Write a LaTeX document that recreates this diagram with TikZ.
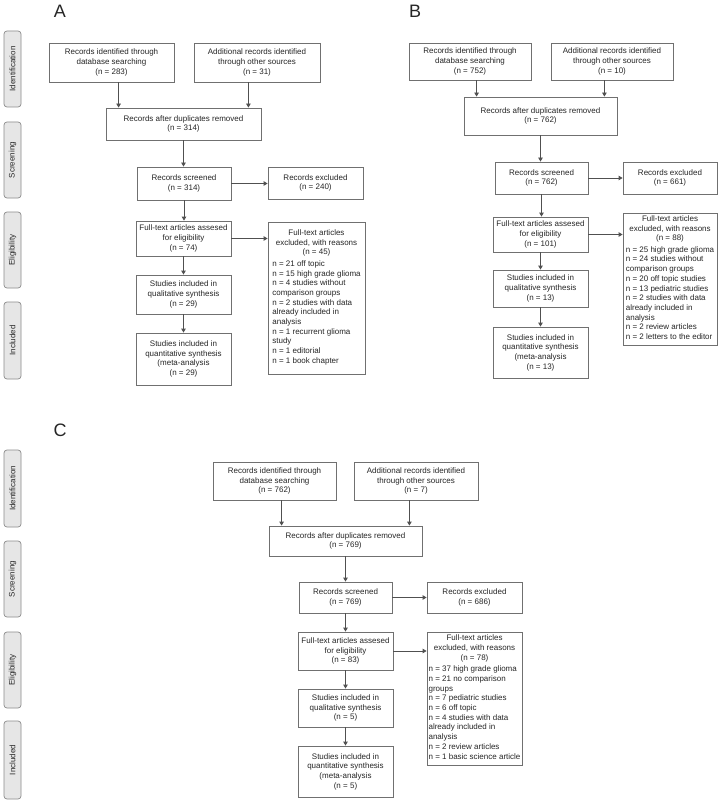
\documentclass[tikz,border=0pt]{standalone}
\usepackage{fontspec}
\setmainfont{Liberation Sans}
\usetikzlibrary{arrows.meta,calc}
\definecolor{boxline}{HTML}{707070}
\definecolor{arrcol}{HTML}{505050}
\definecolor{tabfill}{HTML}{E6E6E6}
\definecolor{tabline}{HTML}{8C8C8C}
\definecolor{txt}{HTML}{262626}
\tikzset{
  pbox/.style={draw=boxline, line width=0.8pt, inner sep=0pt, align=center,
    font=\fontsize{8}{9.7}\selectfont, text=txt},
  arr/.style={draw=arrcol, line width=0.8pt, -{Triangle[length=4pt,width=4.5pt]}},
  sidetab/.style={draw=tabline, fill=tabfill, rounded corners=3pt, line width=0.7pt,
    inner sep=0pt, rotate=90, font=\fontsize{8}{9.7}\selectfont, text=txt},
  panellabel/.style={font=\fontsize{18}{20}\selectfont, inner sep=0pt, text=txt}
}
\newcommand\mkbox[6]{\node[pbox, minimum width={(#4-#2)*1pt}, minimum height={(#5-#3)*1pt}] (#1) at ({(#2+#4)/2},{(#3+#5)/2}) {#6};}
\newcommand\mktab[4]{\node[sidetab, minimum width={(#4-#3)*1pt}, minimum height=17pt] (#1) at (12.5,{(#3+#4)/2}) {#2};}
\newcommand\rsnlist[2]{#1\\[2pt]\begin{tabular}{@{}l@{}}#2\end{tabular}}
\newcommand\flowarrows[1]{%
  \coordinate (in#1l) at ($(dup#1.north west)+(13,0)$);
  \coordinate (in#1r) at ($(dup#1.north east)+(-13,0)$);
  \draw[arr] (db#1.south -| in#1l) -- (in#1l);
  \draw[arr] (add#1.south -| in#1r) -- (in#1r);
  \draw[arr] (dup#1.south) -- (dup#1.south |- scr#1.north);
  \draw[arr] (scr#1.south) -- (scr#1.south |- ass#1.north);
  \draw[arr] (ass#1.south) -- (ass#1.south |- ql#1.north);
  \draw[arr] (ql#1.south) -- (ql#1.south |- qn#1.north);
  \draw[arr] (scr#1.east) -- (scr#1.east -| exc#1.west);
  \draw[arr] (ass#1.east) -- (ass#1.east -| rsn#1.west);
}
\begin{document}
\begin{tikzpicture}[x=1pt,y=-1pt]
\fill[white] (0,0) rectangle (720,805);
\useasboundingbox (0,0) rectangle (720,805);

% ---------------- Panel A ----------------
\node[panellabel] (labA) at (60,11.5) {A};
\mktab{idA}{Identification}{31}{107}
\mktab{scA}{Screening}{122}{198}
\mktab{elA}{Eligibility}{212}{288}
\mktab{inA}{Included}{302}{379}
\mkbox{dbA}{49}{43}{174}{82}{Records identified through\\database searching\\(n = 283)}
\mkbox{addA}{194}{43}{320}{82}{Additional records identified\\through other sources\\(n = 31)}
\mkbox{dupA}{106}{108}{261}{140}{Records after duplicates removed\\(n = 314)}
\mkbox{scrA}{137}{167}{231}{200}{Records screened\\(n = 314)}
\mkbox{excA}{268}{167}{363}{199}{Records excluded\\(n = 240)}
\mkbox{assA}{136}{221}{231}{256}{Full-text articles assesed\\for eligibility\\(n = 74)}
\mkbox{rsnA}{268}{222}{365}{374}{\rsnlist{Full-text articles\\excluded, with reasons\\(n = 45)}{n = 21 off topic\\n = 15 high grade glioma\\n = 4 studies without\\comparison groups\\n = 2 studies with data\\already included in\\analysis\\n = 1 recurrent glioma\\study\\n = 1 editorial\\n = 1 book chapter}}
\mkbox{qlA}{136}{275}{231}{314}{Studies included in\\qualitative synthesis\\(n = 29)}
\mkbox{qnA}{136}{333}{231}{385}{Studies included in\\quantitative synthesis\\(meta-analysis\\(n = 29)}
\flowarrows{A}

% ---------------- Panel B ----------------
\node[panellabel] (labB) at (415,11.5) {B};
\mkbox{dbB}{409}{43}{531}{80}{Records identified through\\database searching\\(n = 752)}
\mkbox{addB}{551}{43}{673}{80}{Additional records identified\\through other sources\\(n = 10)}
\mkbox{dupB}{464}{97}{617}{135}{Records after duplicates removed\\(n = 762)}
\mkbox{scrB}{495}{162}{588}{194}{Records screened\\(n = 762)}
\mkbox{excB}{623}{162}{717}{194}{Records excluded\\(n = 661)}
\mkbox{assB}{493}{217}{588}{252}{Full-text articles assesed\\for eligibility\\(n = 101)}
\mkbox{rsnB}{623}{213}{717}{345}{\rsnlist{Full-text articles\\excluded, with reasons\\(n = 88)}{n = 25 high grade glioma\\n = 24 studies without\\comparison groups\\n = 20 off topic studies\\n = 13 pediatric studies\\n = 2 studies with data\\already included in\\analysis\\n = 2 review articles\\n = 2 letters to the editor}}
\mkbox{qlB}{493}{270}{588}{307}{Studies included in\\qualitative synthesis\\(n = 13)}
\mkbox{qnB}{493}{327}{588}{378}{Studies included in\\quantitative synthesis\\(meta-analysis\\(n = 13)}
\flowarrows{B}

% ---------------- Panel C ----------------
\node[panellabel] (labC) at (60,430) {C};
\mktab{idC}{Identification}{450}{527}
\mktab{scC}{Screening}{541}{617}
\mktab{elC}{Eligibility}{632}{708}
\mktab{inC}{Included}{721}{799}
\mkbox{dbC}{213}{462}{336}{500}{Records identified through\\database searching\\(n = 762)}
\mkbox{addC}{354}{462}{478}{500}{Additional records identified\\through other sources\\(n = 7)}
\mkbox{dupC}{269}{526}{422}{556}{Records after duplicates removed\\(n = 769)}
\mkbox{scrC}{299}{582}{392}{613}{Records screened\\(n = 769)}
\mkbox{excC}{427}{582}{522}{613}{Records excluded\\(n = 686)}
\mkbox{assC}{298}{632}{393}{670}{Full-text articles assesed\\for eligibility\\(n = 83)}
\mkbox{rsnC}{427}{632}{522}{765}{\rsnlist{Full-text articles\\excluded, with reasons\\(n = 78)}{n = 37 high grade glioma\\n = 21 no comparison\\groups\\n = 7 pediatric studies\\n = 6 off topic\\n = 4 studies with data\\already included in\\analysis\\n = 2 review articles\\n = 1 basic science article}}
\mkbox{qlC}{298}{689}{393}{727}{Studies included in\\qualitative synthesis\\(n = 5)}
\mkbox{qnC}{298}{746}{393}{797}{Studies included in\\quantitative synthesis\\(meta-analysis\\(n = 5)}
\flowarrows{C}
\end{tikzpicture}
\end{document}
